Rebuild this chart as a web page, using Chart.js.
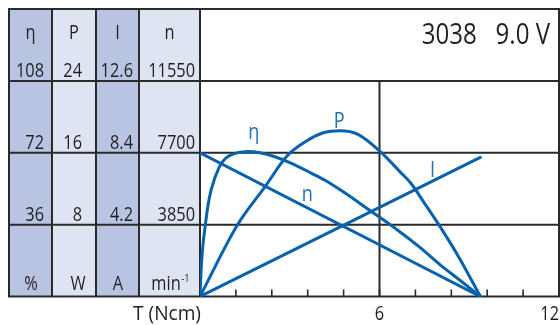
<!DOCTYPE html>
<html><head><meta charset="utf-8">
<script src="https://cdn.jsdelivr.net/npm/chart.js@4/dist/chart.umd.min.js"></script>
<style>html,body{margin:0;padding:0;background:#fff;}#wrap{width:560px;height:325px;position:relative;}</style>
</head><body><div id="wrap"><canvas id="c" width="560" height="325"></canvas></div>
<script>
// ---- data ----
const torqueEta = [0, 0.04, 0.10, 0.18, 0.26, 0.37, 0.65, 0.84, 1.1, 1.6, 2.0, 2.5, 3.06, 3.73, 4.18, 4.85, 5.63, 6.52, 7.3, 8.02, 8.7, 9.37];
const etaValues = [0, 14, 26, 36, 45, 53.3, 65, 69, 71.3, 72.6, 72.0, 70, 66.7, 61.7, 58.2, 51.8, 43.6, 34.2, 25.2, 16, 8, 0];
const torqueP = [0, 1.25, 2.17, 2.9, 3.51, 4.1, 4.68, 5.28, 6.02, 6.68, 7.05, 7.5, 8.02, 8.7, 9.37];
const powerValues = [0, 7.96, 12.2, 15.6, 17.2, 18.2, 18.45, 18.05, 16.15, 13.9, 12.6, 10.4, 7.8, 4.1, 0];
const torqueN = [0, 9.37];
const speedValues = [7700, 0];
const torqueI = [0, 9.37];
const currentValues = [0, 8.13];
const tableHeaders = ['η', 'P', 'I', 'n'];
const etaTicks = [108, 72, 36];
const powerTicks = [24, 16, 8];
const currentTicks = ['12.6', '8.4', '4.2'];
const speedTicks = [11550, 7700, 3850];
const unitLabels = ['%', 'W', 'A', 'min'];
const unitSuperscript = '-1';
const xTickLabels = [6, 12];
const xTickStep = 1.2;
const xAxisTitle = 'T (Ncm)';
const titleText = '3038   9.0 V';
const curveNames = ['η', 'P', 'n', 'I'];

const pts = (xs, ys) => xs.map((x, i) => ({x: x, y: ys[i]}));

const FAMILY = '"Open Sans", "Noto Sans", sans-serif';
const BLUE = '#0762ad';
const TXT_BLUE = '#1f6fb7';
const INK = '#231f20';
const GRID = '#2a2a2a';

function txt(ctx, s, x, y, align, size, sx) {
  ctx.save();
  ctx.font = size + 'px ' + FAMILY;
  ctx.translate(x, y);
  ctx.scale(sx, 1);
  ctx.textAlign = align;
  ctx.textBaseline = 'alphabetic';
  ctx.fillText(s, 0, 0);
  const w = ctx.measureText(s).width * sx;
  ctx.restore();
  return w;
}

const decor = {
  id: 'decor',
  beforeDatasetsDraw(chart) {
    const ctx = chart.ctx, a = chart.chartArea, s = chart.scales;
    const yE = s.yEta, x = s.x;
    const cols = [9, 52, 96, 139, a.left];
    const colFill = ['#b9c4e3', '#dfe4f3', '#b9c4e3', '#dfe4f3'];
    const top = yE.getPixelForValue(144), bot = yE.getPixelForValue(0);
    ctx.save();
    for (let i = 0; i < 4; i++) {
      ctx.fillStyle = colFill[i];
      ctx.fillRect(cols[i], top, cols[i + 1] - cols[i], bot - top);
    }
    ctx.strokeStyle = GRID; ctx.lineWidth = 2;
    ctx.beginPath();
    [144, 108, 72, 36, 0].forEach(v => {
      const y = yE.getPixelForValue(v);
      ctx.moveTo(cols[0] - 1, y); ctx.lineTo(a.right + 1, y);
    });
    cols.forEach(c => { ctx.moveTo(c, top); ctx.lineTo(c, bot); });
    ctx.moveTo(a.right, top); ctx.lineTo(a.right, bot);
    const x6 = x.getPixelForValue(6);
    ctx.moveTo(x6, yE.getPixelForValue(108)); ctx.lineTo(x6, bot);
    ctx.stroke();
    ctx.lineWidth = 1.6;
    ctx.beginPath();
    for (let i = 1; i < 10; i++) {
      const px = x.getPixelForValue(i * xTickStep);
      ctx.moveTo(px, bot); ctx.lineTo(px, bot - 7);
    }
    ctx.stroke();
    ctx.restore();
  },
  afterDatasetsDraw(chart) {
    const ctx = chart.ctx, a = chart.chartArea, s = chart.scales;
    const yE = s.yEta, yP = s.yP, yI = s.yI, yN = s.yN, x = s.x;
    const cols = [9, 52, 96, 139, a.left];
    const top = yE.getPixelForValue(144), bot = yE.getPixelForValue(0);
    const SX = 0.84, FS = 19.5;
    ctx.save();
    ctx.fillStyle = INK;
    // headers
    tableHeaders.forEach((h, i) => txt(ctx, h, (cols[i] + cols[i + 1]) / 2, top + 30, 'center', FS, SX));
    // tick values
    const rightX = [44, 82, 133, 195];
    etaTicks.forEach(v => txt(ctx, String(v), rightX[0], yE.getPixelForValue(v) - 4, 'right', FS, SX));
    powerTicks.forEach(v => txt(ctx, String(v), rightX[1], yP.getPixelForValue(v) - 4, 'right', FS, SX));
    currentTicks.forEach(v => txt(ctx, v, rightX[2], yI.getPixelForValue(parseFloat(v)) - 4, 'right', FS, SX));
    speedTicks.forEach(v => txt(ctx, String(v), rightX[3], yN.getPixelForValue(v) - 4, 'right', FS, SX));
    // units
    const unitX = [31, 78, 118, 166];
    let wMin = 0;
    unitLabels.forEach((u, i) => { const w = txt(ctx, u, unitX[i], bot - 7, 'center', FS, SX); if (i === 3) wMin = w; });
    txt(ctx, unitSuperscript, unitX[3] + wMin / 2 + 0.5, bot - 15, 'left', 11, SX);
    // title
    txt(ctx, titleText, 550, top + 35, 'right', 29, 0.83);
    // x axis labels
    txt(ctx, xAxisTitle, a.left + 1, bot + 23, 'right', FS, 0.98);
    xTickLabels.forEach((t, i) => {
      const px = x.getPixelForValue(t);
      const last = i === xTickLabels.length - 1;
      txt(ctx, String(t), px, bot + 23, last ? 'right' : 'center', FS, SX);
    });
    // curve names
    ctx.fillStyle = TXT_BLUE;
    const anchors = [
      {t: 1.80, v: 78.9, sc: yE},
      {t: 4.65, v: 18.8, sc: yP},
      {t: 3.59, v: 5089, sc: yN},
      {t: 7.77, v: 7.0, sc: yI}
    ];
    curveNames.forEach((n, i) => txt(ctx, n, x.getPixelForValue(anchors[i].t), anchors[i].sc.getPixelForValue(anchors[i].v), 'center', 21, 0.86));
    ctx.restore();
  }
};

const common = {borderColor: BLUE, borderWidth: 3, pointRadius: 0, fill: false, borderCapStyle: 'round', borderJoinStyle: 'round'};
new Chart(document.getElementById('c'), {
  type: 'line',
  data: {
    datasets: [
      Object.assign({label: 'η', data: pts(torqueEta, etaValues), yAxisID: 'yEta', cubicInterpolationMode: 'monotone'}, common),
      Object.assign({label: 'P', data: pts(torqueP, powerValues), yAxisID: 'yP', cubicInterpolationMode: 'monotone'}, common),
      Object.assign({label: 'n', data: pts(torqueN, speedValues), yAxisID: 'yN', tension: 0}, common),
      Object.assign({label: 'I', data: pts(torqueI, currentValues), yAxisID: 'yI', tension: 0}, common)
    ]
  },
  options: {
    responsive: false, animation: false, devicePixelRatio: 1,
    layout: {padding: {left: 200, right: 1, top: 9, bottom: 28.5}},
    plugins: {legend: {display: false}, tooltip: {enabled: false}},
    scales: {
      x: {type: 'linear', min: 0, max: 12, display: false},
      yEta: {type: 'linear', min: 0, max: 144, display: false},
      yP: {type: 'linear', min: 0, max: 32, display: false},
      yI: {type: 'linear', min: 0, max: 16.8, display: false},
      yN: {type: 'linear', min: 0, max: 15400, display: false}
    }
  },
  plugins: [decor]
});
</script></body></html>
